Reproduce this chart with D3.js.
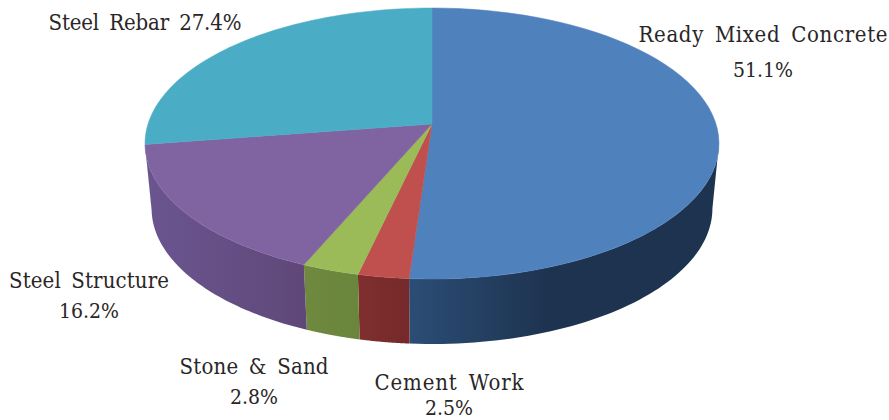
<!DOCTYPE html>
<html>
<head>
<meta charset="utf-8">
<script src="https://cdn.jsdelivr.net/npm/d3@7"></script>
<style>
  html, body { margin: 0; background: #fff; }
  text { font-family: "DejaVu Serif Condensed", "DejaVu Serif", serif; font-size: 22px; fill: #2a2627; word-spacing: 4px; }
  .pct { font-size: 21px; }
</style>
</head>
<body>
<svg id="chart" width="889" height="420"></svg>
<script>
var categories = ['Ready Mixed Concrete', 'Cement Work', 'Stone & Sand', 'Steel Structure', 'Steel Rebar'];
var shares = [51.1, 2.5, 2.8, 16.2, 27.4];
var topColors = ['#4f81bd', '#c0504d', '#9bbb59', '#8064a2', '#4bacc6'];
var sideLight = ['#2b4d75', '#7f2f2e', '#6f8a3f', '#6b5590', '#2f6f82'];
var sideDark = ['#1e3350', '#75292a', '#6a853c', '#5f4878', '#2f6f82'];

var svg = d3.select('#chart');
var defs = svg.append('defs');

// tilted disc: perspective map of the unit circle, the apex sits above the ellipse centre
var persp = 0.144;
function disc(cfg) {
  return function(a) {
    var u = Math.sin(a), v = -Math.cos(a), w = 1 - persp * v;
    return [cfg.x + cfg.a * u / w, cfg.y + cfg.b * v / w];
  };
}
var topDisc = disc({x: 432, y: 124, a: 284, b: 132.7});
var bottomDisc = disc({x: 432, y: 189, a: 277.5, b: 132.7});

var arcs = d3.pie().sort(null).value(function(d) { return d; })(shares);
var line = d3.line();

function arcPoints(f, from, to) {
  return d3.range(0, 61).map(function(i) { return f(from + (to - from) * i / 60); });
}

// side wall first, between the two widest points of the ellipse
arcs.forEach(function(d, i) {
  var from = Math.max(d.startAngle, Math.PI / 2 + persp);
  var to = Math.min(d.endAngle, Math.PI * 1.5 - persp);
  if (from >= to) return;
  var upper = arcPoints(topDisc, from, to);
  var lower = arcPoints(bottomDisc, from, to).reverse();
  var xs = d3.extent(upper.concat(lower), function(p) { return p[0]; });
  var gradId = 'side' + i;
  var grad = defs.append('linearGradient').attr('id', gradId)
    .attr('gradientUnits', 'userSpaceOnUse')
    .attr('x1', xs[0]).attr('x2', i === 0 ? xs[0] + (xs[1] - xs[0]) * 0.45 : xs[1])
    .attr('y1', 0).attr('y2', 0);
  grad.append('stop').attr('offset', 0).attr('stop-color', sideLight[i]);
  grad.append('stop').attr('offset', 1).attr('stop-color', sideDark[i]);
  svg.append('path')
    .attr('d', line(upper.concat(lower)) + 'Z')
    .attr('fill', 'url(#' + gradId + ')');
});

// top face
var apex = [432, 124];
arcs.forEach(function(d, i) {
  svg.append('path')
    .attr('d', line([apex].concat(arcPoints(topDisc, d.startAngle, d.endAngle))) + 'Z')
    .attr('fill', topColors[i])
    .attr('stroke', topColors[i])
    .attr('stroke-width', 0.5);
});

// labels: x centre, the two baselines and the name's width (rebar sits on one line)
var labelPlaces = [[763, 42, 77, 249], [449, 390, 415, 149], [254, 374, 404, 149], [89, 288, 318, 160], [145, 30, null, 193]];
labelPlaces.forEach(function(p, i) {
  var pct = d3.format('.1f')(shares[i]) + '%';
  var t = svg.append('text').attr('text-anchor', 'middle');
  if (p[2] === null) {
    t.attr('x', p[0]).attr('y', p[1]).attr('textLength', p[3]).attr('lengthAdjust', 'spacing').text(categories[i] + ' ' + pct);
    return;
  }
  t.append('tspan').attr('x', p[0]).attr('y', p[1]).attr('textLength', p[3]).attr('lengthAdjust', 'spacing').text(categories[i]);
  t.append('tspan').attr('class', 'pct').attr('x', p[0]).attr('y', p[2]).text(pct);
});
</script>
</body>
</html>
